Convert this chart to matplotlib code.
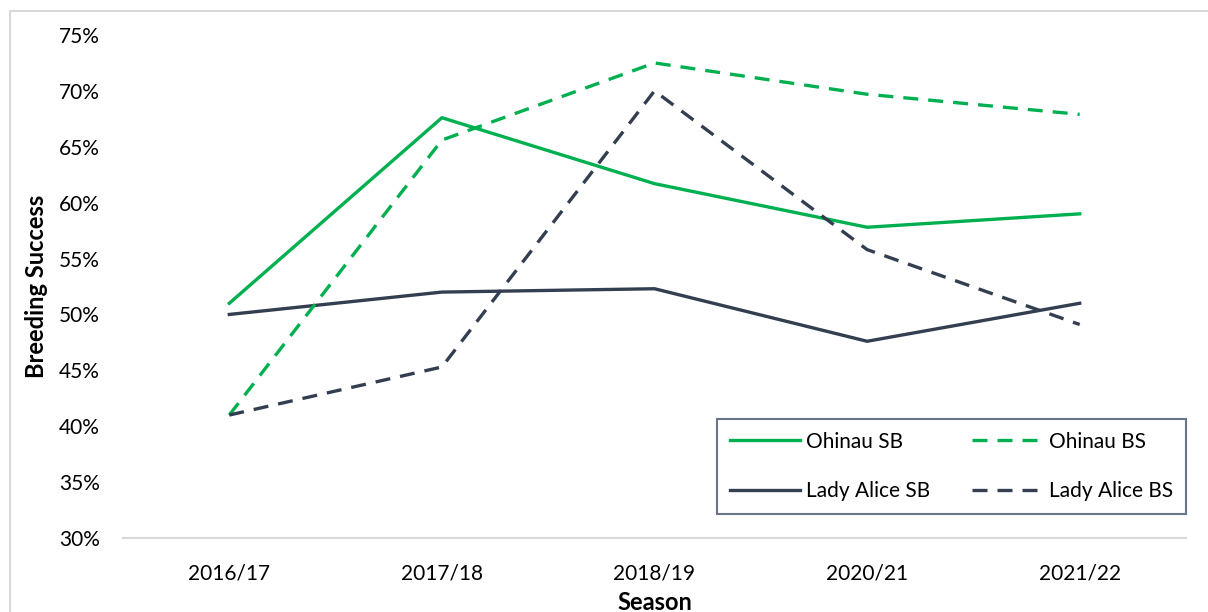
import matplotlib
matplotlib.use("Agg")
import matplotlib.pyplot as plt
from matplotlib.patches import Rectangle
from matplotlib.ticker import PercentFormatter

seasons = ["2016/17", "2017/18", "2018/19", "2020/21", "2021/22"]
ohinau_sb = [51.0, 67.6, 61.7, 57.8, 59.0]
ohinau_bs = [41.0, 65.6, 72.5, 69.7, 67.9]
lady_sb = [50.0, 52.0, 52.3, 47.6, 51.0]
lady_bs = [41.0, 45.3, 70.0, 55.8, 49.1]
y_ticks = [30, 35, 40, 45, 50, 55, 60, 65, 70, 75]

green = "#00B050"
dark = "#333F50"

plt.rcParams["font.family"] = ["Lato", "DejaVu Sans"]

fig = plt.figure(figsize=(12.08, 6.12), dpi=100)
ax = fig.add_axes([123 / 1208, 1 - 538 / 612, (1186 - 123) / 1208, (538 - 35) / 612])

x = list(range(len(seasons)))
lw = 2.4
dash = (0, (4.5, 3))
ax.plot(x, ohinau_sb, color=green, lw=lw, label="Ohinau SB")
ax.plot(x, lady_sb, color=dark, lw=lw, label="Lady Alice SB")
ax.plot(x, ohinau_bs, color=green, lw=lw, ls=dash, label="Ohinau BS")
ax.plot(x, lady_bs, color=dark, lw=lw, ls=dash, label="Lady Alice BS")

ax.set_xlim(-0.5, len(seasons) - 0.5)
ax.set_ylim(30, 75)
ax.set_yticks(y_ticks)
ax.yaxis.set_major_formatter(PercentFormatter(decimals=0))
ax.set_xticks(x)
ax.set_xticklabels(seasons)

for s in ["top", "right", "left"]:
    ax.spines[s].set_visible(False)
ax.spines["bottom"].set_color("#D9D9D9")
ax.spines["bottom"].set_linewidth(1.5)
ax.tick_params(axis="both", length=0, labelsize=15, colors="black")
ax.tick_params(axis="y", pad=16.5)
ax.tick_params(axis="x", pad=18)

ax.set_ylabel("Breeding Success", fontsize=17, fontweight="bold", labelpad=8)
ax.set_xlabel("Season", fontsize=17, fontweight="bold", labelpad=6)

handles, labels = ax.get_legend_handles_labels()
leg = ax.legend(handles, labels, ncol=2, loc="lower right",
                bbox_to_anchor=(1.0, 0.048), fontsize=15, frameon=True,
                fancybox=False, edgecolor="#44546A", handlelength=3.35,
                columnspacing=2.0, borderpad=0.62, labelspacing=1.4,
                handletextpad=0.33, borderaxespad=0)
leg.get_frame().set_linewidth(1.5)

fig.patches.append(Rectangle((10 / 1208, -0.1), 1.2, 1 - 11 / 612 + 0.1,
                             transform=fig.transFigure, fill=False,
                             edgecolor="#D9D9D9", lw=1.5))

fig.savefig("out.png", dpi=100)
